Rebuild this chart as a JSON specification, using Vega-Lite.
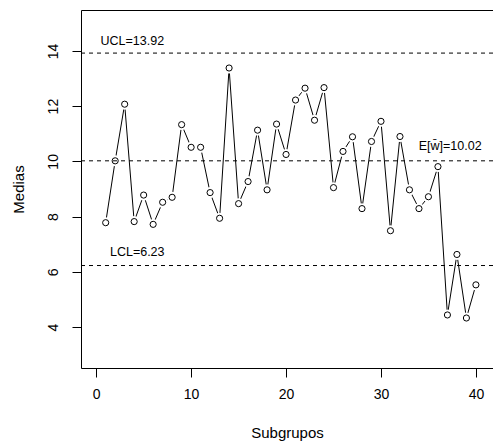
{
  "$schema": "https://vega.github.io/schema/vega-lite/v6.json",
  "width": 412,
  "height": 358,
  "autosize": {"type": "none"},
  "padding": {"left": 81, "top": 10, "right": 0, "bottom": 77},
  "background": "white",
  "config": {
    "font": "Liberation Sans",
    "view": {"stroke": "black", "strokeWidth": 1},
    "axis": {
      "domain": false,
      "grid": false,
      "tickColor": "black",
      "tickSize": 9,
      "tickWidth": 1,
      "labelColor": "black",
      "labelFont": "Liberation Sans",
      "labelFontSize": 14,
      "titleFont": "Liberation Sans",
      "titleFontSize": 15,
      "titleFontWeight": "normal",
      "titleColor": "black"
    }
  },
  "datasets": {
    "medias": [
      {"subgrupo": 1, "media": 7.78},
      {"subgrupo": 2, "media": 10.02},
      {"subgrupo": 3, "media": 12.07},
      {"subgrupo": 4, "media": 7.82},
      {"subgrupo": 5, "media": 8.78},
      {"subgrupo": 6, "media": 7.72},
      {"subgrupo": 7, "media": 8.52},
      {"subgrupo": 8, "media": 8.70},
      {"subgrupo": 9, "media": 11.33},
      {"subgrupo": 10, "media": 10.51},
      {"subgrupo": 11, "media": 10.51},
      {"subgrupo": 12, "media": 8.87},
      {"subgrupo": 13, "media": 7.94},
      {"subgrupo": 14, "media": 13.38},
      {"subgrupo": 15, "media": 8.47},
      {"subgrupo": 16, "media": 9.27},
      {"subgrupo": 17, "media": 11.13},
      {"subgrupo": 18, "media": 8.97},
      {"subgrupo": 19, "media": 11.35},
      {"subgrupo": 20, "media": 10.25},
      {"subgrupo": 21, "media": 12.22},
      {"subgrupo": 22, "media": 12.65},
      {"subgrupo": 23, "media": 11.49},
      {"subgrupo": 24, "media": 12.67},
      {"subgrupo": 25, "media": 9.05},
      {"subgrupo": 26, "media": 10.36},
      {"subgrupo": 27, "media": 10.89},
      {"subgrupo": 28, "media": 8.29},
      {"subgrupo": 29, "media": 10.72},
      {"subgrupo": 30, "media": 11.45},
      {"subgrupo": 31, "media": 7.49},
      {"subgrupo": 32, "media": 10.90},
      {"subgrupo": 33, "media": 8.97},
      {"subgrupo": 34, "media": 8.29},
      {"subgrupo": 35, "media": 8.72},
      {"subgrupo": 36, "media": 9.81},
      {"subgrupo": 37, "media": 4.44},
      {"subgrupo": 38, "media": 6.63},
      {"subgrupo": 39, "media": 4.33},
      {"subgrupo": 40, "media": 5.53}
    ],
    "limites": [
      {"nombre": "UCL", "valor": 13.92, "etiqueta": "UCL=13.92"},
      {"nombre": "CL", "valor": 10.02, "etiqueta": "E[w̄]=10.02"},
      {"nombre": "LCL", "valor": 6.23, "etiqueta": "LCL=6.23"}
    ]
  },
  "layer": [
    {
      "data": {"name": "medias"},
      "mark": {"type": "line", "color": "black", "strokeWidth": 1},
      "encoding": {
        "x": {
          "field": "subgrupo",
          "type": "quantitative",
          "scale": {"domain": [-1.6, 41.8], "nice": false, "zero": false},
          "axis": {"title": "Subgrupos", "values": [0, 10, 20, 30, 40], "labelPadding": 10, "titlePadding": 24}
        },
        "y": {
          "field": "media",
          "type": "quantitative",
          "scale": {"domain": [2.52, 15.48], "nice": false, "zero": false},
          "axis": {"title": "Medias", "values": [4, 6, 8, 10, 12, 14], "labelAngle": 270, "labelPadding": 12, "titlePadding": 20}
        }
      }
    },
    {
      "data": {"name": "medias"},
      "mark": {"type": "point", "shape": "circle", "filled": true, "color": "white", "opacity": 1, "size": 120},
      "encoding": {
        "x": {"field": "subgrupo", "type": "quantitative"},
        "y": {"field": "media", "type": "quantitative"}
      }
    },
    {
      "data": {"name": "medias"},
      "mark": {"type": "point", "shape": "circle", "filled": false, "color": "black", "opacity": 1, "strokeWidth": 1, "size": 38},
      "encoding": {
        "x": {"field": "subgrupo", "type": "quantitative"},
        "y": {"field": "media", "type": "quantitative"}
      }
    },
    {
      "data": {"name": "limites"},
      "mark": {"type": "rule", "color": "black", "strokeWidth": 1, "strokeDash": [4, 4]},
      "encoding": {
        "y": {"field": "valor", "type": "quantitative"}
      }
    },
    {
      "data": {"name": "limites"},
      "transform": [{"filter": "datum.nombre == 'UCL'"}],
      "mark": {"type": "text", "align": "left", "baseline": "middle", "dy": -12, "fontSize": 12.5, "color": "black"},
      "encoding": {
        "x": {"datum": 0.46, "type": "quantitative"},
        "y": {"field": "valor", "type": "quantitative"},
        "text": {"field": "etiqueta"}
      }
    },
    {
      "data": {"name": "limites"},
      "transform": [{"filter": "datum.nombre == 'LCL'"}],
      "mark": {"type": "text", "align": "left", "baseline": "middle", "dy": -14, "fontSize": 12.5, "color": "black"},
      "encoding": {
        "x": {"datum": 1.45, "type": "quantitative"},
        "y": {"field": "valor", "type": "quantitative"},
        "text": {"field": "etiqueta"}
      }
    },
    {
      "data": {"name": "limites"},
      "transform": [{"filter": "datum.nombre == 'CL'"}],
      "mark": {"type": "text", "align": "right", "baseline": "middle", "dy": -15, "fontSize": 12.5, "color": "black"},
      "encoding": {
        "x": {"datum": 40.6, "type": "quantitative"},
        "y": {"field": "valor", "type": "quantitative"},
        "text": {"field": "etiqueta"}
      }
    }
  ]
}
